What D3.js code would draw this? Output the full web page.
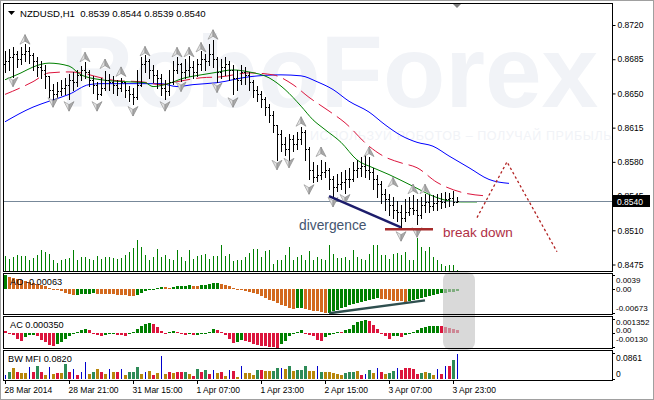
<!DOCTYPE html>
<html><head><meta charset="utf-8">
<script src="https://d3js.org/d3.v7.min.js"></script>
<style>
html,body{margin:0;padding:0;background:#fff;}
svg{display:block;}
text{font-family:"Liberation Sans",Arial,sans-serif;}
</style></head>
<body><svg id="chart" width="654" height="400"></svg>
<script>
// ================= DATA =================
const titleText = "NZDUSD,H1  0.8539 0.8544 0.8539 0.8540";
const timeLabels = ["28 Mar 2014","28 Mar 21:00","31 Mar 15:00","1 Apr 07:00","1 Apr 23:00","2 Apr 15:00","3 Apr 07:00","3 Apr 23:00"];
const timeLabelIdx = [0,16,32,48,64,80,96,112];
const priceTicks = [0.8475,0.8510,0.8545,0.8580,0.8615,0.8650,0.8685,0.8720];
const lastPrice = 0.8540;

const openP = [0.8680,0.8683,0.8687,0.8690,0.8685,0.8690,0.8693,0.8689,0.8683,0.8677,
0.8674,0.8668,0.8654,0.8649,0.8652,0.8656,0.8659,0.8664,0.8662,0.8669,
0.8674,0.8672,0.8664,0.8659,0.8649,0.8656,0.8664,0.8662,0.8659,0.8656,
0.8662,0.8654,0.8649,0.8646,0.8659,0.8680,0.8683,0.8674,0.8669,0.8666,
0.8656,0.8652,0.8662,0.8674,0.8680,0.8672,0.8674,0.8677,0.8672,0.8680,
0.8685,0.8683,0.8690,0.8685,0.8672,0.8677,0.8680,0.8674,0.8666,0.8664,
0.8672,0.8669,0.8662,0.8654,0.8649,0.8644,0.8636,0.8628,0.8618,0.8608,
0.8598,0.8593,0.8603,0.8598,0.8603,0.8611,0.8593,0.8572,0.8564,0.8567,
0.8570,0.8572,0.8562,0.8554,0.8557,0.8559,0.8562,0.8562,0.8572,0.8574,
0.8576,0.8572,0.8570,0.8562,0.8557,0.8547,0.8542,0.8536,0.8531,0.8529,
0.8523,0.8529,0.8533,0.8531,0.8526,0.8536,0.8539,0.8535,0.8538,0.8540,
0.8539,0.8542,0.8543,0.8539];
const highP = [0.8693,0.8695,0.8697,0.8693,0.8698,0.8701,0.8697,0.8691,0.8687,0.8683,
0.8679,0.8668,0.8660,0.8662,0.8664,0.8666,0.8670,0.8672,0.8674,0.8678,
0.8682,0.8674,0.8668,0.8662,0.8666,0.8673,0.8670,0.8668,0.8664,0.8666,
0.8662,0.8658,0.8656,0.8674,0.8687,0.8689,0.8685,0.8679,0.8674,0.8670,
0.8664,0.8674,0.8683,0.8687,0.8681,0.8685,0.8688,0.8683,0.8685,0.8693,
0.8690,0.8701,0.8705,0.8687,0.8685,0.8687,0.8683,0.8679,0.8674,0.8679,
0.8677,0.8672,0.8664,0.8658,0.8652,0.8646,0.8639,0.8632,0.8618,0.8613,
0.8605,0.8608,0.8607,0.8611,0.8616,0.8613,0.8595,0.8580,0.8577,0.8582,
0.8580,0.8574,0.8566,0.8568,0.8570,0.8572,0.8574,0.8580,0.8582,0.8585,
0.8587,0.8585,0.8574,0.8567,0.8560,0.8552,0.8547,0.8544,0.8540,0.8536,
0.8542,0.8544,0.8546,0.8542,0.8544,0.8547,0.8546,0.8546,0.8547,0.8548,
0.8549,0.8548,0.8550,0.8544];
const lowP = [0.8672,0.8674,0.8667,0.8677,0.8680,0.8683,0.8681,0.8674,0.8668,0.8666,
0.8656,0.8646,0.8642,0.8646,0.8648,0.8649,0.8644,0.8654,0.8658,0.8664,
0.8666,0.8658,0.8650,0.8644,0.8648,0.8654,0.8654,0.8650,0.8648,0.8652,
0.8646,0.8642,0.8639,0.8644,0.8658,0.8672,0.8666,0.8662,0.8656,0.8648,
0.8644,0.8648,0.8660,0.8671,0.8663,0.8666,0.8668,0.8666,0.8668,0.8674,
0.8674,0.8679,0.8677,0.8662,0.8666,0.8669,0.8664,0.8649,0.8654,0.8660,
0.8660,0.8654,0.8646,0.8642,0.8636,0.8628,0.8621,0.8611,0.8582,0.8591,
0.8587,0.8582,0.8591,0.8593,0.8598,0.8582,0.8562,0.8559,0.8560,0.8562,
0.8564,0.8552,0.8545,0.8550,0.8552,0.8548,0.8554,0.8560,0.8564,0.8566,
0.8564,0.8562,0.8552,0.8544,0.8538,0.8531,0.8526,0.8523,0.8519,0.8513,
0.8519,0.8526,0.8527,0.8516,0.8523,0.8529,0.8529,0.8531,0.8531,0.8533,
0.8534,0.8535,0.8536,0.8539];
const closeP = [0.8683,0.8687,0.8690,0.8685,0.8690,0.8693,0.8689,0.8683,0.8677,0.8674,
0.8668,0.8654,0.8649,0.8652,0.8656,0.8659,0.8664,0.8662,0.8669,0.8674,
0.8672,0.8664,0.8659,0.8649,0.8656,0.8664,0.8662,0.8659,0.8656,0.8662,
0.8654,0.8649,0.8646,0.8659,0.8680,0.8683,0.8674,0.8669,0.8666,0.8656,
0.8652,0.8662,0.8674,0.8680,0.8672,0.8674,0.8677,0.8672,0.8680,0.8685,
0.8683,0.8690,0.8685,0.8672,0.8677,0.8680,0.8674,0.8666,0.8664,0.8672,
0.8669,0.8662,0.8654,0.8649,0.8644,0.8636,0.8628,0.8618,0.8608,0.8598,
0.8593,0.8603,0.8598,0.8603,0.8611,0.8593,0.8572,0.8564,0.8567,0.8570,
0.8572,0.8562,0.8554,0.8557,0.8559,0.8562,0.8562,0.8572,0.8574,0.8576,
0.8572,0.8570,0.8562,0.8557,0.8547,0.8542,0.8536,0.8531,0.8529,0.8523,
0.8529,0.8533,0.8531,0.8526,0.8536,0.8539,0.8535,0.8538,0.8540,0.8539,
0.8542,0.8543,0.8539,0.8540];
const volumes = [147,123,140,157,147,147,113,133,157,213,
190,173,107,83,113,123,130,207,113,140,
140,123,113,147,123,140,140,130,123,130,
157,190,233,313,240,157,113,140,223,140,
157,123,107,213,140,97,213,123,147,157,
173,123,147,147,263,147,173,100,113,113,
140,180,223,223,140,200,207,67,113,113,
157,240,113,140,157,113,197,107,140,123,
113,257,167,133,133,140,107,207,140,123,
107,173,257,257,163,163,123,173,180,157,
190,113,113,333,240,200,240,140,107,73,
47,57,60,13];

// Alligator lines (bar index, price)
const jawIdx   = [0,7,11,16,21,24,32,39,43,47,53,61,69,74,78,82,86,91,95,99,103,107,111,116,121,126];
const jawPrice = [0.8621,0.8636,0.8642,0.8649,0.8659,0.8660,0.8660,0.8660,0.8657,0.8659,0.8661,0.8667,0.8669,0.8668,0.8662,0.8654,0.8642,0.8631,0.8618,0.8607,0.8600,0.8596,0.8586,0.8574,0.8562,0.8558];
const teethIdx   = [0,4,7,11,16,19,24,28,34,39,43,49,54,61,67,72,76,81,85,91,95,99,103,108,114,121];
const teethPrice = [0.8649,0.8656,0.8662,0.8671,0.8672,0.8671,0.8666,0.8663,0.8662,0.8659,0.8662,0.8666,0.8667,0.8671,0.8669,0.8659,0.8646,0.8632,0.8620,0.8596,0.8585,0.8579,0.8574,0.8559,0.8549,0.8545];
const lipsIdx   = [0,4,7,11,16,19,24,30,35,37,40,45,49,52,57,61,66,70,74,77,80,84,88,92,96,102,107,111,114,118];
const lipsPrice = [0.8664,0.8671,0.8677,0.8681,0.8678,0.8669,0.8664,0.8662,0.8661,0.8657,0.8659,0.8666,0.8669,0.8671,0.8674,0.8672,0.8666,0.8654,0.8637,0.8623,0.8613,0.8600,0.8582,0.8574,0.8567,0.8555,0.8545,0.8540,0.8539,0.8539];

// Fractals (bar index, price of the marker)
const fracUpIdx   = [5,20,25,29,35,43,46,49,52,74,79,91,97,102,105];
const fracUpPrice = [0.8705,0.8687,0.8680,0.8672,0.8693,0.8692,0.8692,0.8697,0.8710,0.8621,0.8590,0.8590,0.8559,0.8552,0.8552];
const fracDnIdx   = [2,12,16,23,32,40,44,53,57,68,71,76,82,85,99,103];
const fracDnPrice = [0.8662,0.8641,0.8637,0.8637,0.8632,0.8637,0.8657,0.8656,0.8641,0.8577,0.8579,0.8552,0.8539,0.8542,0.8504,0.8508];

// Hand-drawn annotations
const forecastIdx = [118,125.5,138];
const forecastPrice = [0.8523,0.8580,0.8488];
const divIdx = [81,99];
const divPrice = [0.8545,0.8513];
const breakIdx = [95,107];
const breakPrice = 0.8511;
const aoDivIdx = [81,105];
const aoDivVal = [-0.0068,-0.0032];

// Awesome oscillator
const aoValues = [0.0039,0.0034,0.0031,0.0028,0.0025,0.0022,0.0020,0.0017,0.0014,0.0011,
0.0008,0.0004,0.0001,-0.0002,-0.0006,-0.0010,-0.0014,-0.0017,-0.0016,-0.0015,
-0.0014,-0.0013,-0.0012,-0.0013,-0.0014,-0.00145,-0.0015,-0.00155,-0.0016,-0.0017,
-0.0018,-0.0019,-0.0020,-0.0017,-0.0012,-0.0007,-0.0003,0.0001,0.0004,0.0006,
0.0005,0.0004,0.0005,0.0007,0.0008,0.0009,0.0010,0.0009,0.0008,0.0010,
0.0012,0.0014,0.0016,0.0017,0.0014,0.0011,0.0008,0.0004,0.0001,-0.0002,
-0.0005,-0.0008,-0.0011,-0.0015,-0.0020,-0.0025,-0.0030,-0.0035,-0.0040,-0.0045,
-0.0049,-0.0052,-0.0055,-0.0054,-0.0053,-0.0055,-0.0058,-0.0061,-0.0063,-0.0065,
-0.0067,-0.0066,-0.0062,-0.0058,-0.0054,-0.0050,-0.0046,-0.0042,-0.0039,-0.0036,
-0.0033,-0.0030,-0.0027,-0.0025,-0.0027,-0.0029,-0.0031,-0.0033,-0.0034,-0.0035,
-0.0036,-0.0034,-0.0031,-0.0028,-0.0025,-0.0022,-0.0019,-0.0016,-0.0014,-0.0012,
-0.0010,-0.0009,-0.0008,-0.00063];
// Accelerator oscillator
const acValues = [0.0002,-0.00005,-0.0002,-0.0005,-0.0007,-0.0004,-0.0002,-0.00015,-0.00025,-0.0006,
-0.0008,-0.0011,-0.0012,-0.0010,-0.0008,-0.0005,-0.0003,0.0000,0.0001,0.0003,
0.0004,0.0003,-0.00005,-0.0002,-0.00025,-0.0002,-0.0001,-0.00003,-0.00012,-0.0002,
-0.00025,-0.0001,0.0001,0.0004,0.0007,0.0009,0.00095,0.0009,0.0006,0.0002,
-0.0001,0.0001,0.0002,0.0001,-0.0001,-0.0002,-0.0001,-0.0002,-0.00015,-0.0001,
0.00003,0.0001,0.0004,0.00035,0.0001,-0.0002,-0.0005,-0.0009,-0.0008,-0.0006,
-0.0007,-0.0008,-0.0010,-0.0011,-0.0012,-0.00125,-0.0013,-0.00132,-0.00135,-0.0010,
-0.0007,-0.0003,0.0000,0.0001,0.0003,0.00005,-0.0002,-0.0003,-0.0006,-0.0007,
-0.0004,-0.0002,0.00005,0.0001,0.00008,0.0003,0.0004,0.0008,0.0011,0.0012,
0.0013,0.0012,0.0008,0.0004,0.00005,-0.0003,-0.0005,-0.0003,-0.00029,-0.0004,
-0.0002,0.0000,0.0001,0.0003,0.0005,0.0006,0.00065,0.0007,0.00072,0.0007,
0.0006,0.0005,0.0004,0.00035];
// BW Market Facilitation Index
const mfiValues = [0.013,0.023,0.036,0.023,0.020,0.020,0.040,0.023,0.043,0.023,
0.013,0.040,0.017,0.020,0.020,0.050,0.023,0.033,0.013,0.023,
0.056,0.017,0.023,0.033,0.023,0.017,0.033,0.023,0.023,0.033,
0.013,0.023,0.023,0.040,0.017,0.023,0.026,0.013,0.020,0.076,
0.017,0.023,0.020,0.023,0.023,0.023,0.017,0.010,0.033,0.023,
0.030,0.017,0.030,0.020,0.023,0.010,0.030,0.026,0.007,0.043,
0.020,0.020,0.013,0.030,0.030,0.026,0.026,0.026,0.036,0.036,
0.033,0.043,0.026,0.030,0.030,0.043,0.026,0.026,0.043,0.023,
0.023,0.023,0.020,0.017,0.013,0.020,0.023,0.023,0.026,0.014,
0.017,0.029,0.020,0.036,0.023,0.017,0.020,0.026,0.036,0.030,
0.036,0.036,0.033,0.017,0.020,0.023,0.020,0.013,0.033,0.017,
0.043,0.043,0.063,0.0820];
const mfiKinds = ("ugbpbbupgp"+"bubpbgpupu"+"ubgbpbubpu"+"bgggbubpbu"+"bpbppgbpgp"+
"gpubpbupbu"+"bbbgpbbggu"+"bgbgggbbug"+"bbbbbgggbp"+"ugbupbggup"+"ppppgbgbup"+"upgu").split("");

const aoLabel = "AO -0.00063", acLabel = "AC 0.000350", mfiLabel = "BW MFI 0.0820";
const aoAxis = [["0.0039",0.0039],["0.00",0],["-0.00673",-0.00673]];
const acAxis = [["0.001352",0.001352],["0.00",0],["-0.00130",-0.0013]];
const mfiAxis = [["0.0861",0.0861],["0",0]];

// ================= DRAWING =================
const svg = d3.select("#chart");
const n = closeP.length;
const x = d3.scaleLinear().domain([0, n-1]).range([5, 457]);
const y = d3.scaleLinear().domain([0.8475, 0.8720]).range([264.5, 25]);
const yVol = d3.scaleLinear().domain([0, 340]).range([271, 237]);
const yAO = d3.scaleLinear().domain([-0.00673, 0.0039]).range([313, 275]);
const yAC = d3.scaleLinear().domain([-0.0013, 0.001352]).range([347, 319]);
const yMFI = d3.scaleLinear().domain([0, 0.0861]).range([379, 353]);

const C = {green:"#008000", orange:"#d2691e", red:"#dc143c", mfiG:"#2e8b57", mfiB:"#b8860b", mfiU:"#0000cd", mfiP:"#dc143c"};

svg.append("rect").attr("width",654).attr("height",400).attr("fill","#fff");

const defs = svg.append("defs");
defs.append("clipPath").attr("id","clipMain").append("rect").attr("x",4).attr("y",4).attr("width",608).attr("height",267);

// ---- main panel ----
const main = svg.append("g").attr("clip-path","url(#clipMain)");
// watermark
main.append("text").attr("x",60).attr("y",107).attr("font-size",102).attr("font-weight","bold")
  .attr("fill","#f1f3f7").text("RoboForex");
main.append("text").attr("x",310).attr("y",140).attr("font-size",12.5).attr("letter-spacing",0.6)
  .attr("fill","#f1f3f7").text("ИСПОЛЬЗУЙ РОБОТОВ – ПОЛУЧАЙ ПРИБЫЛЬ");

// volumes
main.append("g").attr("shape-rendering","crispEdges").selectAll("line").data(volumes).join("line")
  .attr("x1",(d,i)=>Math.round(x(i))+0.5).attr("x2",(d,i)=>Math.round(x(i))+0.5)
  .attr("y1",yVol(0)).attr("y2",d=>yVol(d)).attr("stroke",C.green).attr("stroke-width",1);

// alligator
const lineFn = (xsI, ysP) => d3.line().x(d=>x(d[0])).y(d=>y(d[1])).curve(d3.curveMonotoneX)(xsI.map((v,k)=>[v,ysP[k]]));
main.append("path").attr("d",lineFn(jawIdx,jawPrice)).attr("fill","none").attr("stroke","#0000ff").attr("stroke-width",1);
main.append("path").attr("d",lineFn(teethIdx,teethPrice)).attr("fill","none").attr("stroke",C.red).attr("stroke-width",1).attr("stroke-dasharray","16,6");
main.append("path").attr("d",lineFn(lipsIdx,lipsPrice)).attr("fill","none").attr("stroke",C.green).attr("stroke-width",1);

// bid line
main.append("line").attr("x1",4).attr("x2",612).attr("y1",Math.round(y(lastPrice))+0.5).attr("y2",Math.round(y(lastPrice))+0.5)
  .attr("stroke","#778899").attr("stroke-width",1);

// OHLC bars
const gb = main.append("g").attr("shape-rendering","crispEdges").attr("fill","#000");
closeP.forEach((c,i)=>{
  const xi = Math.round(x(i));
  const yh = Math.round(y(highP[i])), yl = Math.round(y(lowP[i]));
  gb.append("rect").attr("x",xi).attr("y",yh).attr("width",1).attr("height",Math.max(1,yl-yh+1));
  gb.append("rect").attr("x",xi-1).attr("y",Math.round(y(openP[i]))).attr("width",1).attr("height",1);
  gb.append("rect").attr("x",xi+1).attr("y",Math.round(y(c))).attr("width",1).attr("height",1);
});

// fractals
function fractal(g, cx, cy, up){
  const s = up ? 1 : -1;
  const gg = g.append("g").attr("transform",`translate(${cx},${cy}) scale(1,${s})`);
  gg.append("path").attr("d","M0,-5 L-5,4.5 L0,1.5 Z").attr("fill","#e2e2e2").attr("stroke","#9a9a9a").attr("stroke-width",0.7);
  gg.append("path").attr("d","M0,-5 L5,4.5 L0,1.5 Z").attr("fill","#a9a9a9").attr("stroke","#8a8a8a").attr("stroke-width",0.7);
}
const gf = main.append("g");
fracUpIdx.forEach((v,k)=>fractal(gf, x(v), y(fracUpPrice[k]), true));
fracDnIdx.forEach((v,k)=>fractal(gf, x(v), y(fracDnPrice[k]), false));

// annotations
main.append("path").attr("d", d3.line().x(d=>x(d[0])).y(d=>y(d[1]))(forecastIdx.map((v,k)=>[v,forecastPrice[k]])))
  .attr("fill","none").attr("stroke","#b22222").attr("stroke-width",1.3).attr("stroke-dasharray","2.5,2.5");
main.append("line").attr("x1",x(divIdx[0])).attr("y1",y(divPrice[0])).attr("x2",x(divIdx[1])).attr("y2",y(divPrice[1]))
  .attr("stroke","#1c1c6b").attr("stroke-width",2.5);
main.append("line").attr("x1",x(breakIdx[0])).attr("x2",x(breakIdx[1])).attr("y1",y(breakPrice)).attr("y2",y(breakPrice))
  .attr("stroke","#a52a2a").attr("stroke-width",2.5);
main.append("text").attr("x",299).attr("y",230).attr("font-size",13.8).attr("fill","#44556f").text("divergence");
main.append("text").attr("x",443).attr("y",237).attr("font-size",13.5).attr("fill","#b03045").text("break down");

// title
svg.append("path").attr("d","M8,11 L15,11 L11.5,15 Z").attr("fill","#000");
svg.append("text").attr("x",20).attr("y",16.5).attr("font-size",9.6).attr("fill","#000").attr("xml:space","preserve").text(titleText);
// shift marker
svg.append("path").attr("d","M452,3 L462,3 L457,8 Z").attr("fill","#7f7f7f");

// ---- AO ----
const gAO = svg.append("g").attr("shape-rendering","crispEdges");
aoValues.forEach((v,i)=>{
  const up = i===0 ? true : v > aoValues[i-1];
  const y0 = yAO(0), y1 = yAO(v);
  gAO.append("rect").attr("x",Math.round(x(i))-1).attr("y",Math.min(y0,y1)).attr("width",3).attr("height",Math.max(1,Math.abs(y1-y0)))
    .attr("fill", up ? C.green : C.orange);
});
svg.append("line").attr("x1",x(aoDivIdx[0])).attr("y1",yAO(aoDivVal[0])).attr("x2",x(aoDivIdx[1])).attr("y2",yAO(aoDivVal[1]))
  .attr("stroke","#2f4f4f").attr("stroke-width",2.5);
svg.append("text").attr("x",10).attr("y",285).attr("font-size",9.2).attr("fill","#000").text(aoLabel);

// ---- AC ----
const gAC = svg.append("g").attr("shape-rendering","crispEdges");
acValues.forEach((v,i)=>{
  const up = i===0 ? false : v > acValues[i-1];
  const y0 = yAC(0), y1 = yAC(v);
  gAC.append("rect").attr("x",Math.round(x(i))-1).attr("y",Math.min(y0,y1)).attr("width",3).attr("height",Math.max(1,Math.abs(y1-y0)))
    .attr("fill", up ? C.green : C.red);
});
svg.append("text").attr("x",10).attr("y",328).attr("font-size",9.2).attr("fill","#000").text(acLabel);

// ---- MFI ----
const gM = svg.append("g").attr("shape-rendering","crispEdges");
const kindColor = {g:C.mfiG, b:C.mfiB, u:C.mfiU, p:C.mfiP};
mfiValues.forEach((v,i)=>{
  const k = mfiKinds[i];
  const w = k==="u" ? 1 : 3;
  const xi = Math.round(x(i)) - (k==="u" ? 0 : 1);
  gM.append("rect").attr("x",xi).attr("y",yMFI(v)).attr("width",w).attr("height",yMFI(0)-yMFI(v)).attr("fill",kindColor[k]);
});
svg.append("text").attr("x",8).attr("y",362).attr("font-size",9.2).attr("fill","#000").text(mfiLabel);

// highlight box
svg.append("rect").attr("x",443).attr("y",272).attr("width",32).attr("height",78).attr("rx",8)
  .attr("fill","#c4c4c4").attr("opacity",0.65);

// ---- frames ----
const frames = [[3,3,612,271],[3,273,612,314],[3,316,612,348],[3,350,612,380]];
svg.append("g").attr("shape-rendering","crispEdges").selectAll("rect").data(frames).join("rect")
  .attr("x",d=>d[0]+0.5).attr("y",d=>d[1]+0.5).attr("width",d=>d[2]-d[0]).attr("height",d=>d[3]-d[1])
  .attr("fill","none").attr("stroke","#000").attr("stroke-width",1);

// price axis
const axisG = svg.append("g").attr("transform","translate(612.5,0)")
  .call(d3.axisRight(y).tickValues(priceTicks).tickFormat(d3.format(".4f")).tickSize(3).tickPadding(2));
axisG.select(".domain").remove();
axisG.selectAll("text").attr("font-size",8.5).attr("font-family","Liberation Sans, Arial").attr("fill","#000");
axisG.selectAll("line").attr("stroke","#000");
// current price box
svg.append("rect").attr("x",613).attr("y",Math.round(y(lastPrice))-6).attr("width",37).attr("height",12).attr("fill","#000");
svg.append("text").attr("x",617).attr("y",Math.round(y(lastPrice))+3.5).attr("font-size",8.5).attr("fill","#fff").text(d3.format(".4f")(lastPrice));

// sub-panel axis labels
function subAxis(list, sc, positions, fs){
  list.forEach((d,k)=>{
    svg.append("text").attr("x",616).attr("y",positions[k]).attr("font-size",fs).attr("fill","#000").text(d[0]);
    svg.append("line").attr("x1",612).attr("x2",615).attr("y1",Math.round(sc(d[1]))+0.5).attr("y2",Math.round(sc(d[1]))+0.5).attr("stroke","#000");
  });
}
subAxis(aoAxis, yAO, [283,292,311], 8);
subAxis(acAxis, yAC, [325,333,342], 8);
subAxis(mfiAxis, yMFI, [361,377], 8.5);

// time axis
const tg = svg.append("g");
timeLabelIdx.forEach((v,k)=>{
  const xi = Math.round(x(v))+0.5;
  tg.append("line").attr("x1",xi).attr("x2",xi).attr("y1",380).attr("y2",384).attr("stroke","#000");
  tg.append("text").attr("x",xi-1).attr("y",393).attr("font-size",8.5).attr("fill","#000").text(timeLabels[k]);
});

// window edge
svg.append("rect").attr("x",0.5).attr("y",0.5).attr("width",653).attr("height",399).attr("fill","none").attr("stroke","#a0a0a0");
</script>
</body></html>
